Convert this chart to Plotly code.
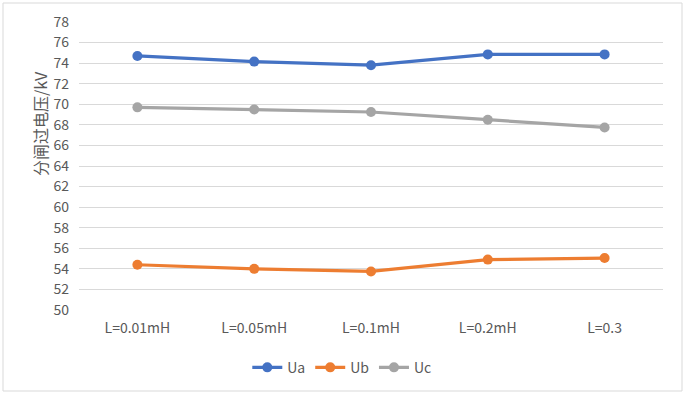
import plotly.graph_objects as go

categories = ["L=0.01mH", "L=0.05mH", "L=0.1mH", "L=0.2mH", "L=0.3"]
ua = [74.7, 74.15, 73.8, 74.85, 74.85]
ub = [54.4, 54.0, 53.75, 54.9, 55.05]
uc = [69.7, 69.5, 69.25, 68.5, 67.75]
series_names = ["Ua", "Ub", "Uc"]
colors = ["#4472C4", "#ED7D31", "#A5A5A5"]
y_title = "分闸过电压/kV"

W, H = 686, 395
L, R, T, B = 79, 23, 22, 85
pw, ph = W - L - R, H - T - B

fig = go.Figure()
for name, vals, col in zip(series_names, [ua, ub, uc], colors):
    fig.add_trace(go.Scatter(
        x=categories, y=vals, name=name, mode="lines+markers",
        line=dict(color=col, width=3.2),
        marker=dict(color=col, size=10),
    ))

font_family = "Noto Sans CJK SC"
fig.update_layout(
    width=W, height=H,
    margin=dict(l=L, r=R, t=T, b=B, autoexpand=False),
    paper_bgcolor="white", plot_bgcolor="white",
    font=dict(family=font_family, color="#595959", size=14),
    showlegend=True,
    legend=dict(orientation="h", x=0.45, xanchor="center", y=-0.145, yanchor="top",
                font=dict(size=14, color="#595959"), itemwidth=30,
                tracegroupgap=0),
    xaxis=dict(type="category", range=[-0.5, 4.5], showgrid=False, zeroline=False,
               showline=False, ticks="", ticklabelstandoff=8, automargin=False,
               tickfont=dict(size=14, color="#595959")),
    yaxis=dict(range=[50, 78], dtick=2, showgrid=True, gridcolor="#D9D9D9", gridwidth=1,
               zeroline=False, showline=False, ticks="", ticklabelstandoff=9, automargin=False,
               tickfont=dict(size=14, color="#595959")),
)

fig.add_annotation(
    text=y_title, textangle=-90, xref="paper", yref="paper",
    x=(40 - L) / pw, y=(H - B - 124) / ph, showarrow=False,
    font=dict(size=16, color="#595959", family=font_family),
    xanchor="center", yanchor="middle",
)

fig.add_shape(
    type="rect", xref="paper", yref="paper",
    x0=(3 - L) / pw, x1=(682 - L) / pw,
    y0=(H - B - 391) / ph, y1=(H - B - 3) / ph,
    line=dict(color="#D9D9D9", width=1), fillcolor="rgba(0,0,0,0)", layer="below",
)

fig.write_html("out.html", config={"displayModeBar": False},
               post_script="document.body.style.margin='0';document.body.style.overflow='hidden';")
